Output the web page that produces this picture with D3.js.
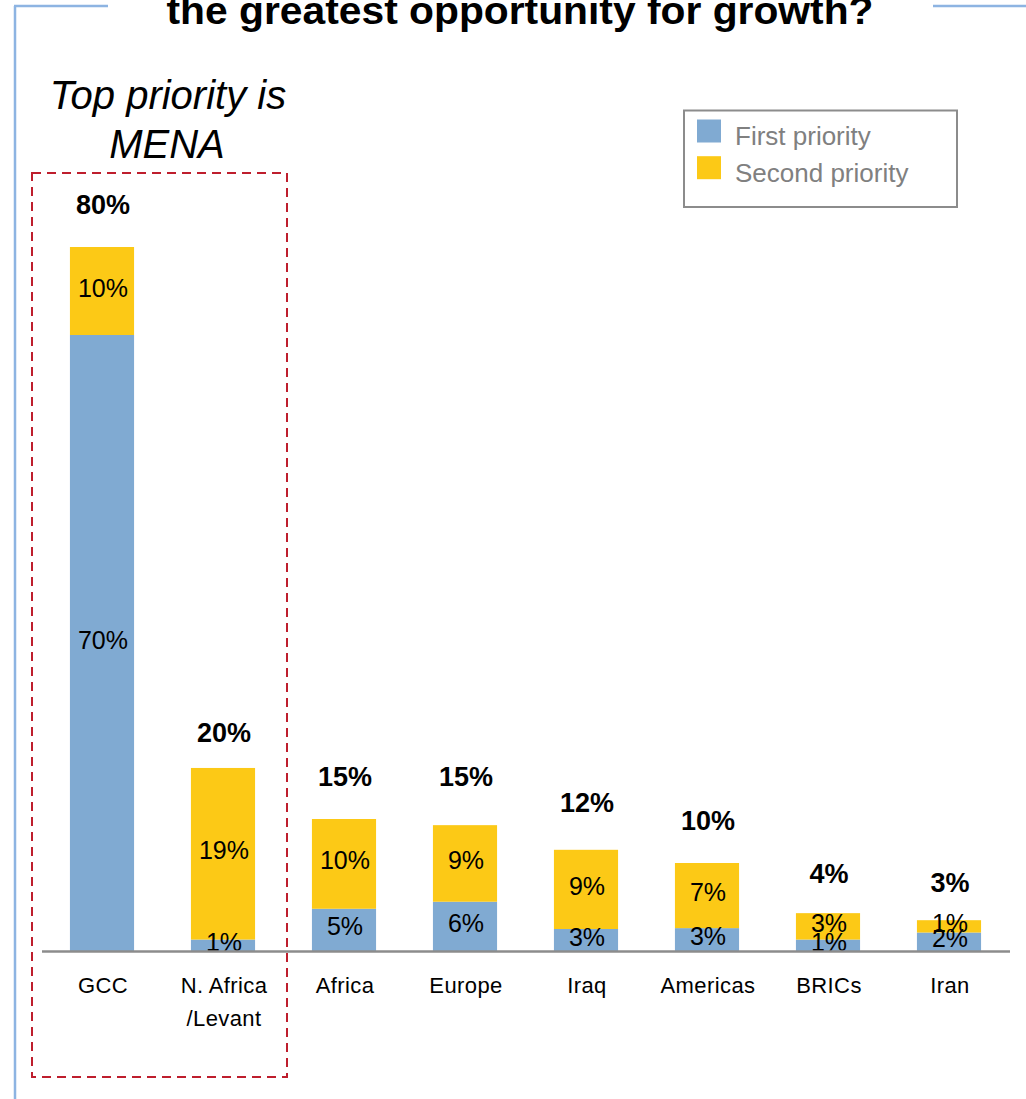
<!DOCTYPE html>
<html>
<head>
<meta charset="utf-8">
<script src="https://cdn.jsdelivr.net/npm/d3@7"></script>
<style>
  html, body { margin: 0; padding: 0; background: #fff; }
  svg { display: block; font-family: "Liberation Sans", Arial, Helvetica, sans-serif; }
</style>
</head>
<body>
<svg id="chart" width="1026" height="1099"></svg>
<script>
const categories = ["GCC", "N. Africa\n/Levant", "Africa", "Europe", "Iraq", "Americas", "BRICs", "Iran"];
const firstPriority = [70, 1.3, 4.8, 5.6, 2.5, 2.6, 1.3, 2.1];
const secondPriority = [10, 19.5, 10.2, 8.7, 9.0, 7.4, 3.0, 1.4];
const firstLabels = ["70%", "1%", "5%", "6%", "3%", "3%", "1%", "2%"];
const secondLabels = ["10%", "19%", "10%", "9%", "9%", "7%", "3%", "1%"];
const totalValues = [80, 20, 15, 15, 12, 10, 4, 3];
const totalLabels = ["80%", "20%", "15%", "15%", "12%", "10%", "4%", "3%"];
const seriesNames = ["First priority", "Second priority"];
const colors = ["#80AAD2", "#FCC916"];

const svg = d3.select("#chart");

// frame lines (light blue)
const frame = "#8DB4E2";
svg.append("line").attr("x1", 15).attr("x2", 15).attr("y1", 6).attr("y2", 1099)
  .attr("stroke", frame).attr("stroke-width", 2.5);
svg.append("line").attr("x1", 14).attr("x2", 108).attr("y1", 6).attr("y2", 6)
  .attr("stroke", frame).attr("stroke-width", 2.5);
svg.append("line").attr("x1", 933).attr("x2", 1026).attr("y1", 6).attr("y2", 6)
  .attr("stroke", frame).attr("stroke-width", 2.5);

// title (second line visible)
svg.append("text").attr("x", 520).attr("y", 24).attr("text-anchor", "middle")
  .attr("font-size", 38).attr("font-weight", "bold").attr("fill", "#000")
  .attr("textLength", 707).attr("lengthAdjust", "spacingAndGlyphs")
  .text("the greatest opportunity for growth?");

const x = d3.scaleBand().domain(categories).range([41.5, 1009.5])
  .paddingInner(0.47).paddingOuter(0.235);
const y = d3.scaleLinear().domain([0, 80]).range([951, 247]);

const data = categories.map((c, i) => ({
  cat: c, first: firstPriority[i], second: secondPriority[i],
  fl: firstLabels[i], sl: secondLabels[i], total: totalValues[i], tl: totalLabels[i]
}));

const stack = d3.stack().keys(["first", "second"]);
const layers = stack(data);

const g = svg.append("g");
layers.forEach((layer, li) => {
  g.selectAll(null).data(layer).enter().append("rect")
    .attr("x", d => x(d.data.cat))
    .attr("width", x.bandwidth())
    .attr("y", d => y(d[1]))
    .attr("height", d => y(d[0]) - y(d[1]))
    .attr("fill", colors[li]);
});

// axis baseline
const axis = svg.append("g").attr("transform", "translate(0,951)")
  .call(d3.axisBottom(x).tickSize(0).tickFormat(""));
axis.select(".domain").attr("stroke", "#8C8C8C").attr("stroke-width", 2.5);

// segment labels
layers.forEach((layer, li) => {
  g.selectAll(null).data(layer).enter().append("text")
    .attr("x", d => x(d.data.cat) + x.bandwidth() / 2 + 1)
    .attr("y", d => (y(d[0]) + y(d[1])) / 2 + 5.5)
    .attr("text-anchor", "middle")
    .attr("font-size", 25)
    .attr("fill", "#000")
    .text(d => li === 0 ? d.data.fl : d.data.sl);
});

// total labels
g.selectAll(null).data(data).enter().append("text")
  .attr("x", d => x(d.cat) + x.bandwidth() / 2 + 1)
  .attr("y", d => y(d.total) - 33)
  .attr("text-anchor", "middle")
  .attr("font-size", 27).attr("font-weight", "bold").attr("fill", "#000")
  .text(d => d.tl);

// category labels
const cl = svg.append("g");
data.forEach(d => {
  const lines = d.cat.split("\n");
  const t = cl.append("text")
    .attr("x", x(d.cat) + x.bandwidth() / 2 + 1)
    .attr("y", 993)
    .attr("text-anchor", "middle")
    .attr("font-size", 22).attr("letter-spacing", 0.4).attr("fill", "#000");
  lines.forEach((ln, k) => {
    t.append("tspan").attr("x", x(d.cat) + x.bandwidth() / 2 + 1)
      .attr("dy", k === 0 ? 0 : 33).text(ln);
  });
});

// dashed highlight box
svg.append("rect").attr("x", 32).attr("y", 173).attr("width", 255).attr("height", 904)
  .attr("fill", "none").attr("stroke", "#BE1E2D").attr("stroke-width", 2)
  .attr("stroke-dasharray", "9,6");

// annotation
const ann = svg.append("text").attr("text-anchor", "middle").attr("font-size", 40)
  .attr("font-style", "italic").attr("fill", "#000");
ann.append("tspan").attr("x", 168).attr("y", 109).text("Top priority is");
ann.append("tspan").attr("x", 167).attr("y", 158).text("MENA");

// legend
const lg = svg.append("g");
lg.append("rect").attr("x", 684).attr("y", 110.5).attr("width", 273).attr("height", 96.5)
  .attr("fill", "#fff").attr("stroke", "#8C8C8C").attr("stroke-width", 2);
seriesNames.forEach((s, i) => {
  lg.append("rect").attr("x", 697).attr("y", 119.5 + i * 36.7).attr("width", 24).attr("height", 23)
    .attr("fill", colors[i]);
  lg.append("text").attr("x", 735).attr("y", 145 + i * 36.7)
    .attr("font-size", 26).attr("fill", "#808080").text(s);
});
</script>
</body>
</html>
